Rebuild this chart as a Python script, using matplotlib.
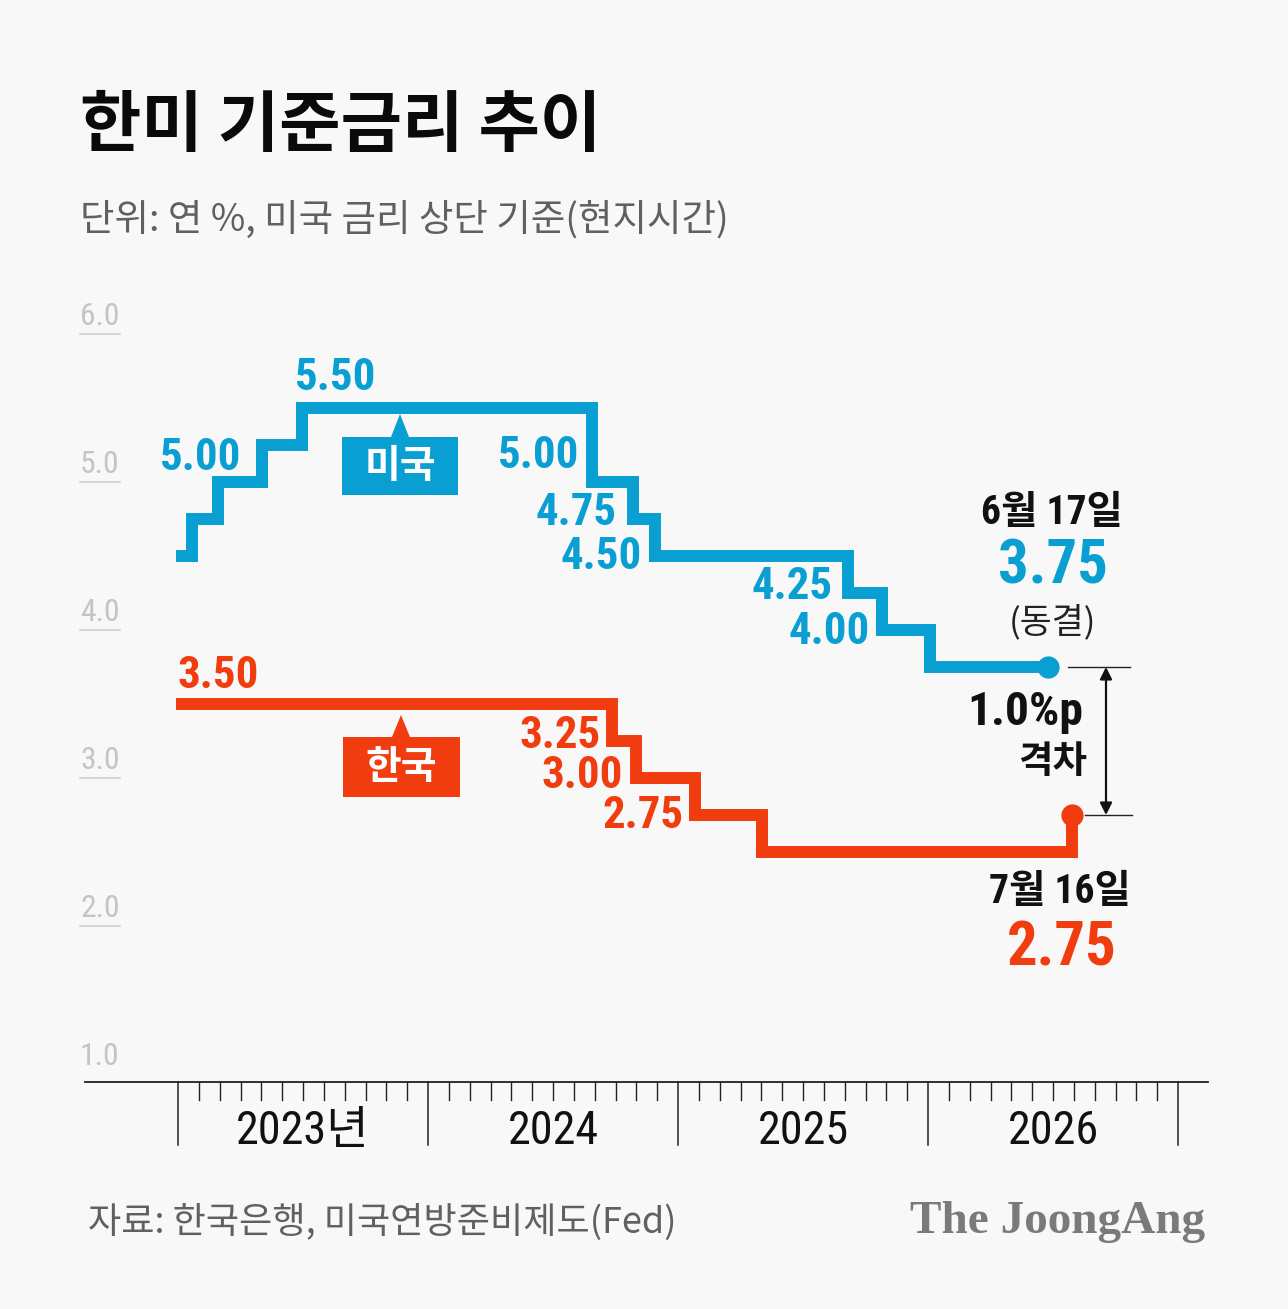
import matplotlib
matplotlib.use("Agg")
import matplotlib.pyplot as plt
from matplotlib import font_manager as fm
from matplotlib.patches import Polygon

# ---------------- data ----------------
us_dates = [2022.99, 2023.056, 2023.16, 2023.336, 2023.496, 2024.656, 2024.82,
            2024.908, 2025.68, 2025.816, 2026.008, 2026.48]
us_rates = [4.50, 4.75, 5.00, 5.25, 5.50, 5.00, 4.75, 4.50, 4.25, 4.00, 3.75, 3.75]
kr_dates = [2022.99, 2024.736, 2024.832, 2025.068, 2025.336, 2026.576]
kr_rates = [3.50, 3.25, 3.00, 2.75, 2.50, 2.75]
y_ticks = [6.0, 5.0, 4.0, 3.0, 2.0, 1.0]
years = [2023, 2024, 2025, 2026]
year_labels = ["2023년", "2024", "2025", "2026"]
us_name, kr_name = "미국", "한국"
us_date_label, us_note = "6월 17일", "(동결)"
kr_date_label = "7월 16일"
us_label_vals = [5.00, 5.50, 5.00, 4.75, 4.50, 4.25, 4.00]
kr_label_vals = [3.50, 3.25, 3.00, 2.75]

title = "한미 기준금리 추이"
subtitle = "단위: 연 %, 미국 금리 상단 기준(현지시간)"
source = "자료: 한국은행, 미국연방준비제도(Fed)"
logo = "The JoongAng"

BLUE = "#0a9fd2"
RED = "#f03c0f"
BG = "#f8f8f8"

# ---------------- fonts ----------------
names = {f.name for f in fm.fontManager.ttflist}
if "Liberation Sans Narrow" in names:
    NARROW, K = "Liberation Sans Narrow", 1.0
elif "Roboto Condensed" in names:
    NARROW, K = "Roboto Condensed", 0.95
else:
    NARROW, K = "Liberation Sans", 0.84
KR = "Noto Sans CJK KR"
NUMF = [NARROW, KR]
KRF = [KR, "DejaVu Sans"]
plt.rcParams["font.family"] = KRF

# ---------------- figure ----------------
W, H = 1288, 1309
fig = plt.figure(figsize=(W / 100, H / 100), dpi=100, facecolor=BG)
ax = fig.add_axes([0, 0, 1, 1])
ax.set_facecolor(BG)
ax.axis("off")

# pixel layout -> data coordinates
X0, XS = 178, 250.0     # px of 2023 start, px per year
Y0, YS = 1222, 148.0    # px of value 0, px per 1 %p
def X(px): return 2023 + (px - X0) / XS
def Y(py): return (Y0 - py) / YS
ax.set_xlim(X(0), X(W))
ax.set_ylim(Y(H), Y(0))

# ---------------- y labels with short lines ----------------
AXIS_V = Y(1082)
for v in y_ticks:
    ax.text(X(80), v + 0.115, f"{v:.1f}", fontsize=24 * K, color="#c4c4c4",
            family=NUMF, ha="left", va="center")
    if v > 1.0:
        ax.plot([X(80), X(120)], [v, v], color="#d0d0d0", lw=1.2)

# ---------------- x axis ----------------
ax.plot([X(85), X(1208)], [AXIS_V, AXIS_V], color="#222222", lw=1.3)
for yr in years + [years[-1] + 1]:
    ax.plot([yr, yr], [AXIS_V, AXIS_V - 63 / YS], color="#222222", lw=1.1)
    if yr <= years[-1]:
        for m in range(1, 12):
            xm = yr + m / 12
            ax.plot([xm, xm], [AXIS_V, AXIS_V - 18 / YS], color="#222222", lw=1.0)
for yr, lab in zip(years, year_labels):
    ax.text(yr + 0.5, Y(1131), lab, fontsize=35 * K, family=NUMF, color="#111111",
            ha="center", va="center")

# ---------------- lines ----------------
ax.plot(us_dates, us_rates, drawstyle="steps-post", color=BLUE, lw=8.6,
        solid_joinstyle="miter", solid_capstyle="butt", zorder=3)
ax.plot(kr_dates, kr_rates, drawstyle="steps-post", color=RED, lw=8.6,
        solid_joinstyle="miter", solid_capstyle="butt", zorder=3)
ax.plot(us_dates[-1], us_rates[-1], "o", color=BLUE, ms=15, zorder=4)
ax.plot(kr_dates[-1], kr_rates[-1], "o", color=RED, ms=15, zorder=4)

# ---------------- value labels ----------------
us_label_pos = [(201, 458), (336, 378), (539, 456), (576, 513), (601, 557),
                (792, 587), (829, 632)]
for (px, py), v in zip(us_label_pos, us_label_vals):
    ax.text(X(px), Y(py), f"{v:.2f}", fontsize=34 * K, fontweight="bold",
            family=NUMF, color=BLUE, ha="center", va="center", zorder=6)
kr_label_pos = [(218, 676), (560, 736), (582, 776), (643, 816)]
for (px, py), v in zip(kr_label_pos, kr_label_vals):
    ax.text(X(px), Y(py), f"{v:.2f}", fontsize=34 * K, fontweight="bold",
            family=NUMF, color=RED, ha="center", va="center", zorder=6)

# end annotations
ax.text(X(1052), Y(513), us_date_label, fontsize=30 * K, fontweight="bold",
        family=NUMF, color="#111111", ha="center", va="center")
ax.text(X(1053), Y(567), f"{us_rates[-1]:.2f}", fontsize=46 * K, fontweight="bold",
        family=NUMF, color=BLUE, ha="center", va="center")
ax.text(X(1052), Y(622), us_note, fontsize=25, family=KRF,
        color="#222222", ha="center", va="center")
ax.text(X(1060), Y(892), kr_date_label, fontsize=30 * K, fontweight="bold",
        family=NUMF, color="#111111", ha="center", va="center")
ax.text(X(1062), Y(949), f"{kr_rates[-1]:.2f}", fontsize=46 * K, fontweight="bold",
        family=NUMF, color=RED, ha="center", va="center")

# gap annotation
gap = us_rates[-1] - kr_rates[-1]
ax.plot([X(1068), X(1130)], [us_rates[-1]] * 2, color="#222222", lw=1.0)
ax.plot([X(1085), X(1132)], [kr_rates[-1]] * 2, color="#222222", lw=1.0)
ax.annotate("", xy=(X(1106), kr_rates[-1]), xytext=(X(1106), us_rates[-1]),
            arrowprops=dict(arrowstyle="<|-|>", color="#111111", lw=1.6,
                            mutation_scale=18, shrinkA=0, shrinkB=0))
ax.text(X(1025), Y(712), f"{gap:.1f}%p", fontsize=36 * K, fontweight="bold",
        family=NUMF, color="#111111", ha="center", va="center")
ax.text(X(1053), Y(762), "격차", fontsize=27, fontweight="bold",
        family=KRF, color="#111111", ha="center", va="center")

# ---------------- callouts ----------------
def callout(x0, x1, y0, y1, tip_x, tip_y, color, label):
    pts = [(x0, y0), (tip_x - 9, y0), (tip_x, tip_y), (tip_x + 9, y0),
           (x1, y0), (x1, y1), (x0, y1)]
    ax.add_patch(Polygon([(X(a), Y(b)) for a, b in pts], closed=True,
                         facecolor=color, edgecolor="none", zorder=5))
    ax.text(X((x0 + x1) / 2), Y((y0 + y1) / 2 + 1), label, fontsize=28,
            fontweight="bold", family=KRF, color="white",
            ha="center", va="center", zorder=6)

callout(342, 458, 437, 495, 400, 414, BLUE, us_name)
callout(343, 460, 737, 797, 401, 715, RED, kr_name)

# ---------------- titles ----------------
fig.text(80 / W, 1 - 127 / H, title, fontsize=48, fontweight="heavy",
         family=KRF, color="#0a0a0a", ha="left", va="center")
fig.text(80 / W, 1 - 220 / H, subtitle, fontsize=27, family=KRF,
         color="#606060", ha="left", va="center")
fig.text(88 / W, 1 - 1222 / H, source, fontsize=26, family=KRF,
         color="#606060", ha="left", va="center")
fig.text(1205 / W, 1 - 1222 / H, logo, fontsize=34, fontweight="bold",
         family=["Liberation Serif", "DejaVu Serif"], color="#7a7a7a",
         ha="right", va="center")

fig.savefig("out.png", dpi=100, facecolor=BG)
